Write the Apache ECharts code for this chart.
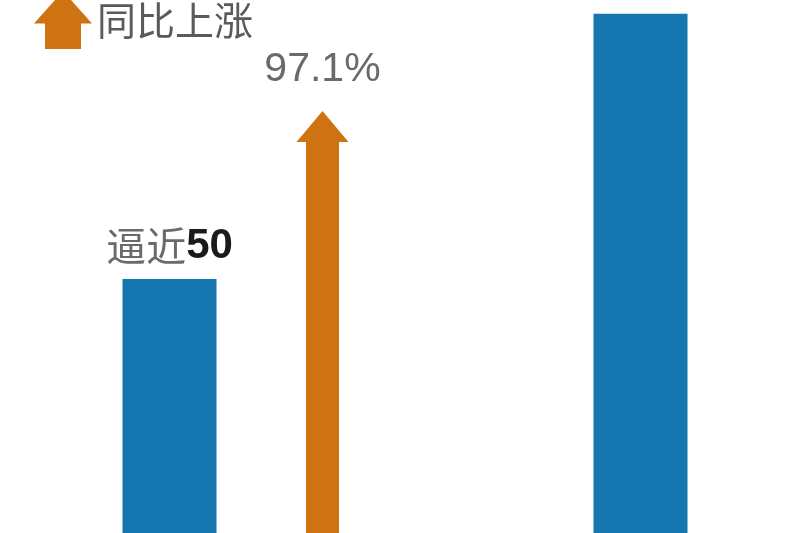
<!DOCTYPE html>
<html>
<head>
<meta charset="utf-8">
<script src="https://cdn.jsdelivr.net/npm/echarts@6/dist/echarts.min.js"></script>
<style>html,body{margin:0;padding:0;background:#fff}#c{width:800px;height:533px}</style>
</head>
<body>
<div id="c"></div>
<script>
const categories = ['前期', '同比上涨', '', '本期'];
const barValues = [50, null, null, 98];
const barLabels = ['逼近50', '', '', ''];
const arrowValues = [[1, 80.4]];
const arrowLabel = '97.1%';
const legendName = '同比上涨';

const BLUE = '#1677b0';
const ORANGE = '#cf7212';
const ARROW_ICON = 'path://M50,0 L100,56 L81,56 L81,100 L19,100 L19,56 L0,56 Z';

const chart = echarts.init(document.getElementById('c'));
chart.setOption({
  backgroundColor: '#ffffff',
  animation: false,
  grid: { left: 91, right: 81, top: 0, bottom: 0 },
  legend: {
    data: [{ name: legendName, icon: ARROW_ICON }],
    left: 29, top: -14,
    itemWidth: 58, itemHeight: 63, itemGap: 5,
    textStyle: { fontSize: 39, color: '#5a5a5a', fontFamily: 'Noto Sans CJK SC' }
  },
  xAxis: {
    type: 'category', data: categories,
    axisLine: { show: false }, axisTick: { show: false }, axisLabel: { show: false }
  },
  yAxis: {
    type: 'value', min: 4, max: 100.5,
    axisLine: { show: false }, axisTick: { show: false }, axisLabel: { show: false },
    splitLine: { show: false }
  },
  series: [
    {
      name: '数值', type: 'bar', barWidth: 94,
      itemStyle: { color: BLUE },
      data: barValues.map((v, i) => ({
        value: v,
        label: {
          show: !!barLabels[i], position: 'top', distance: 12,
          formatter: () => '{a|' + barLabels[i].replace(/\d+/, '') + '}{b|' + (barLabels[i].match(/\d+/) || [''])[0] + '}',
          rich: {
            a: { fontSize: 40, color: '#6a6a6a', fontFamily: 'Noto Sans CJK SC' },
            b: { fontSize: 42, color: '#1a1a1a', fontFamily: 'Liberation Sans', fontWeight: 'bold' }
          }
        }
      }))
    },
    {
      name: legendName, type: 'custom',
      itemStyle: { color: ORANGE },
      data: arrowValues,
      renderItem: function (params, api) {
        const top = api.coord([api.value(0), api.value(1)]);
        const base = api.coord([api.value(0), 4]);
        const cx = top[0] - 4, ty = top[1], by = base[1] + 5;
        const hw = 26, sw = 16.5, hh = 31;
        return {
          type: 'group',
          children: [
            {
              type: 'polygon',
              shape: { points: [[cx - sw, by], [cx - sw, ty + hh], [cx - hw, ty + hh], [cx, ty], [cx + hw, ty + hh], [cx + sw, ty + hh], [cx + sw, by]] },
              style: { fill: ORANGE }
            },
            {
              type: 'text',
              style: {
                text: arrowLabel, x: cx, y: ty - 21,
                textAlign: 'center', textVerticalAlign: 'bottom',
                fontSize: 41, fill: '#6a6a6a', fontFamily: 'Liberation Sans'
              }
            }
          ]
        };
      }
    }
  ]
});
</script>
</body>
</html>
